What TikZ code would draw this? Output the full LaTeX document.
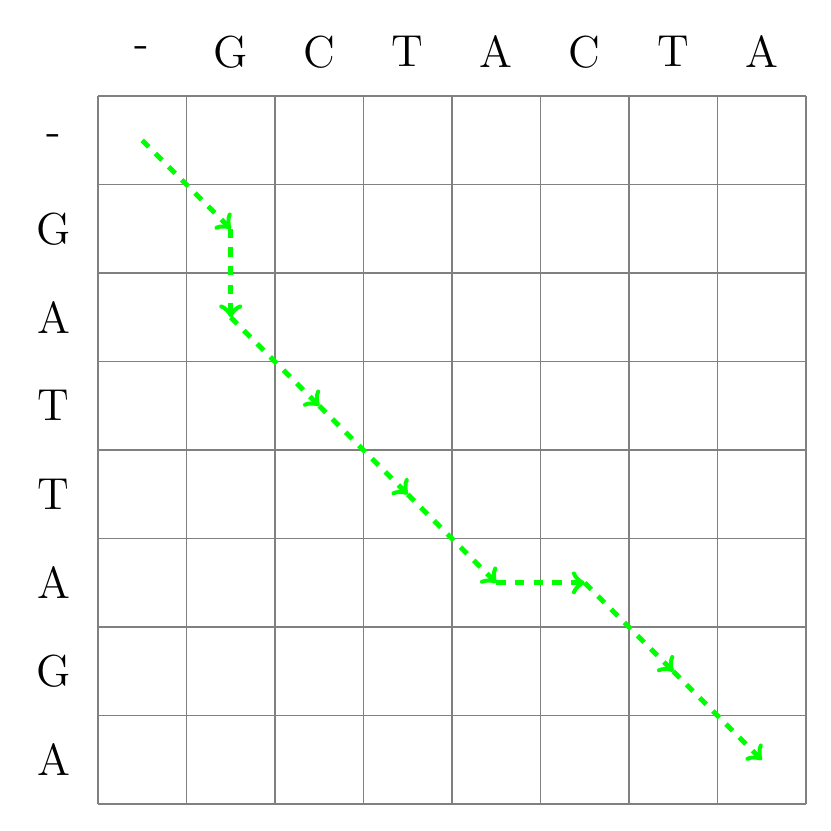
\documentclass[tikz,border=0pt]{standalone}
\begin{document}
\begin{tikzpicture}[x=1cm,y=1cm,
  gridline/.style={draw=gray, line width=0.4pt},
  lbl/.style={font=\Large, inner sep=0pt},
  pathstep/.style={->, >=to, draw=green, dashed, line width=1.6pt}]
\useasboundingbox (-1.107,-8.294) rectangle (8.282,1.085);
\draw[gridline] (0,0) grid (8,-8);
\foreach \t [count=\i from 0] in {-,G,C,T,A,C,T,A} {
  \node[lbl] (c\i) at (\i+0.5,0.5) {\t};
}
\foreach \t [count=\i from 0] in {-,G,A,T,T,A,G,A} {
  \node[lbl] (r\i) at (-0.5,-\i-0.5) {\t};
}
\foreach \r in {0,...,7} {
  \foreach \c in {0,...,7} {
    \coordinate (p\r-\c) at (\c+0.5,-\r-0.5);
  }
}
\draw[pathstep] (p0-0) -- (p1-1);
\draw[pathstep] (p1-1) -- (p2-1);
\draw[pathstep] (p2-1) -- (p3-2);
\draw[pathstep] (p3-2) -- (p4-3);
\draw[pathstep] (p4-3) -- (p5-4);
\draw[pathstep] (p5-4) -- (p5-5);
\draw[pathstep] (p5-5) -- (p6-6);
\draw[pathstep] (p6-6) -- (p7-7);
\end{tikzpicture}
\end{document}
